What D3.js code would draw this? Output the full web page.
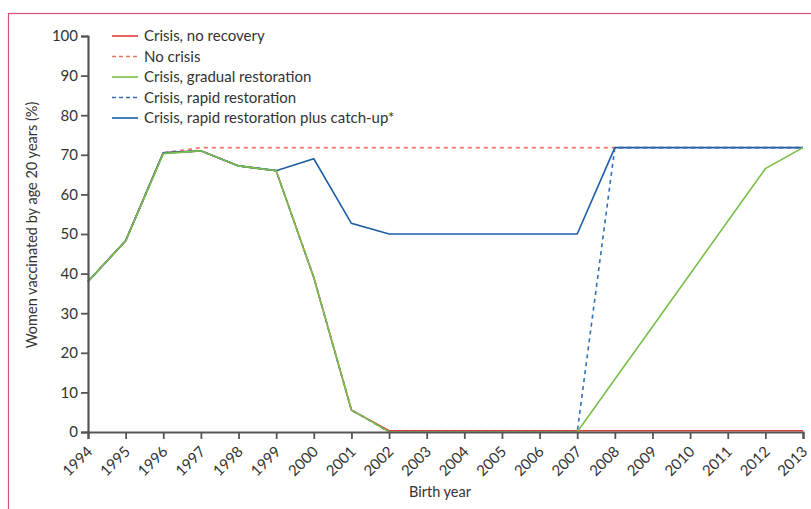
<!DOCTYPE html>
<html><head><meta charset="utf-8">
<script src="https://cdn.jsdelivr.net/npm/d3@7"></script>
<style>body{margin:0;background:#fff}svg{display:block}text{font-family:Lato,"Open Sans",sans-serif;fill:#333}</style>
</head><body><svg id="c" width="811" height="509"></svg>
<script>
const years = d3.range(1994, 2014);
const noRecovery = [38, 48.3, 70.5, 71, 67.2, 66, 39, 5.5, 0.3, 0.3, 0.3, 0.3, 0.3, 0.3, 0.3, 0.3, 0.3, 0.3, 0.3, 0.3];
const noCrisis = [38, 48.3, 70.5, 71.8, 71.8, 71.8, 71.8, 71.8, 71.8, 71.8, 71.8, 71.8, 71.8, 71.8, 71.8, 71.8, 71.8, 71.8, 71.8, 71.8];
const gradual = [38, 48.3, 70.3, 71, 67.2, 66, 39, 5.6, 0, 0, 0, 0, 0, 0, 13.3, 26.6, 39.9, 53.2, 66.5, 71.8];
const rapid = [38, 48.3, 70.4, 71, 67.2, 66, 39, 5.6, 0, 0, 0, 0, 0, 0, 71.8, 71.8, 71.8, 71.8, 71.8, 71.8];
const catchUp = [38, 48.3, 70.5, 71, 67.2, 66, 69, 52.7, 50, 50, 50, 50, 50, 50, 71.8, 71.8, 71.8, 71.8, 71.8, 71.8];
const yTicks = [0, 10, 20, 30, 40, 50, 60, 70, 80, 90, 100];
const seriesNames = ["Crisis, no recovery", "No crisis", "Crisis, gradual restoration", "Crisis, rapid restoration", "Crisis, rapid restoration plus catch-up*"];

const svg = d3.select("#c");
svg.append("rect").attr("x", 8.5).attr("y", 13.5).attr("width", 820).attr("height", 520)
  .attr("fill", "none").attr("stroke", "#d4507a").attr("stroke-width", 1.2);

const x = d3.scaleLinear().domain([1994, 2013]).range([88, 803]);
const y = d3.scaleLinear().domain([0, 100]).range([432, 36]);

const series = [
  {name: seriesNames[1], data: noCrisis, color: "#f0705a", dash: "4,4"},
  {name: seriesNames[0], data: noRecovery, color: "#e2403a", dash: null},
  {name: seriesNames[4], data: catchUp, color: "#1c5ea6", dash: null},
  {name: seriesNames[3], data: rapid, color: "#2e6fb8", dash: "4,4"},
  {name: seriesNames[2], data: gradual, color: "#79bf4a", dash: null}
];
const line = d3.line().x((d, i) => x(years[i])).y(d => y(d));
series.forEach(s => {
  svg.append("path").attr("d", line(s.data)).attr("fill", "none")
    .attr("stroke", s.color).attr("stroke-width", 1.6)
    .attr("stroke-dasharray", s.dash);
});

const ax = svg.append("g").attr("transform", "translate(0,432)")
  .call(d3.axisBottom(x).tickValues(years).tickFormat(d3.format("d")).tickSizeOuter(0).tickSize(7));
ax.selectAll("text").attr("transform", "rotate(-45)").attr("text-anchor", "end")
  .attr("x", -11).attr("y", 18).attr("dx", 0).attr("dy", 0).style("font-size", "15px");
const ay = svg.append("g").attr("transform", "translate(88,0)")
  .call(d3.axisLeft(y).tickValues(yTicks).tickSizeOuter(0).tickSize(7));
ay.selectAll("text").style("font-size", "15px").attr("x", -10);
[ax, ay].forEach(g => {
  g.select(".domain").attr("stroke", "#555").attr("stroke-width", 2.2);
  g.selectAll(".tick line").attr("stroke", "#555").attr("stroke-width", 1.8);
  g.selectAll("text").style("fill", "#333").style("font-family", "Lato, sans-serif");
});

svg.append("text").attr("x", 440).attr("y", 497).attr("text-anchor", "middle")
  .style("font-size", "14.5px").text("Birth year");
svg.append("text").attr("transform", "translate(37,225) rotate(-90)").attr("text-anchor", "middle")
  .style("font-size", "14.5px").text("Women vaccinated by age 20 years (%)");

const legendOrder = [
  {name: seriesNames[0], color: "#e2403a", dash: null},
  {name: seriesNames[1], color: "#f0705a", dash: "4,3"},
  {name: seriesNames[2], color: "#79bf4a", dash: null},
  {name: seriesNames[3], color: "#2e6fb8", dash: "4,3"},
  {name: seriesNames[4], color: "#1c5ea6", dash: null}
];
legendOrder.forEach((s, i) => {
  const ly = 36 + i * 20.5;
  svg.append("line").attr("x1", 112).attr("x2", 138).attr("y1", ly).attr("y2", ly)
    .attr("stroke", s.color).attr("stroke-width", 1.6).attr("stroke-dasharray", s.dash);
  svg.append("text").attr("x", 144).attr("y", ly + 5).style("font-size", "15px").text(s.name);
});
</script></body></html>
